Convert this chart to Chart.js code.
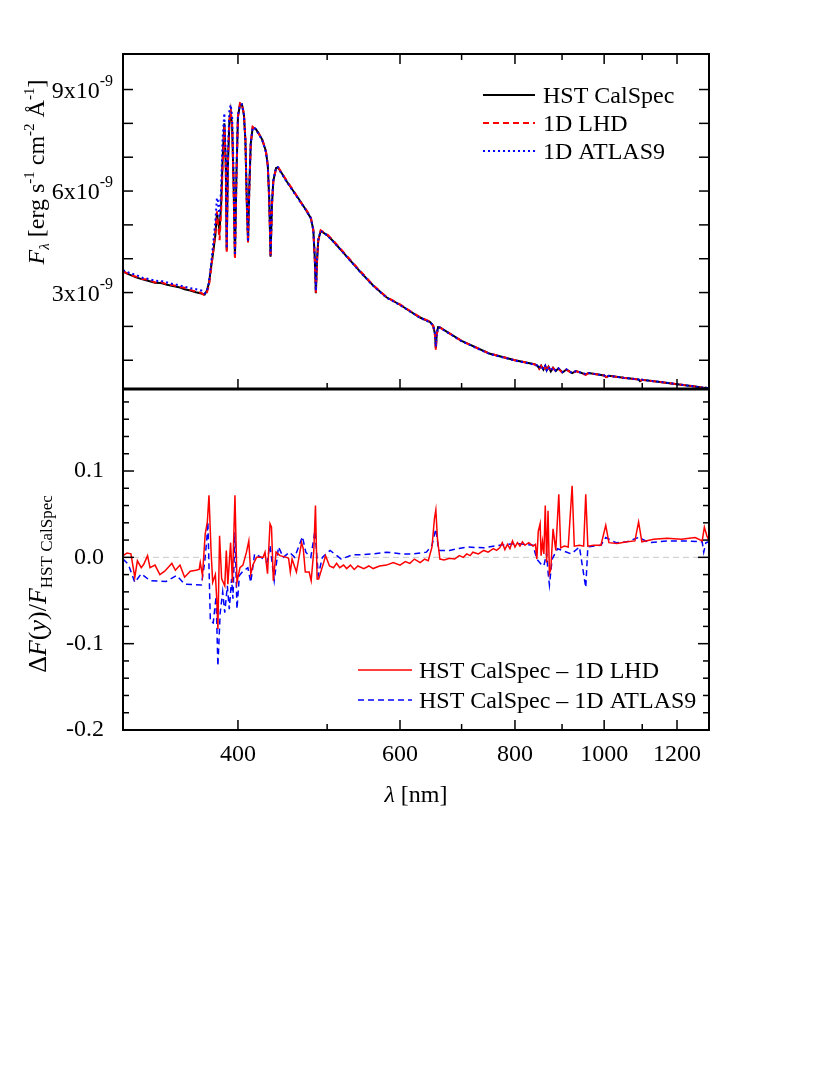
<!DOCTYPE html>
<html>
<head>
<meta charset="utf-8">
<script src="https://cdn.jsdelivr.net/npm/chart.js@4.4.0/dist/chart.umd.min.js"></script>
<style>
  html, body { margin: 0; padding: 0; background: #fff; }
  #wrap { position: relative; width: 830px; height: 1075px; }
</style>
</head>
<body>
<div id="wrap"><canvas id="c" width="830" height="1075"></canvas></div>
<script>
const SERIF = '"Liberation Serif", "Times New Roman", serif';

// top panel: wavelength [nm] and flux [1e-9 erg s-1 cm-2 A-1]
const fluxLam = [300, 305, 310, 315, 320, 325, 330, 335, 340, 345, 350, 355, 360, 365, 368, 370, 372, 374, 376, 378,
  379.5, 380.5, 382, 383.5, 385, 386.6, 388, 388.9, 390, 391.5, 392.8, 394.2, 395.5, 397, 398.5, 400, 402, 404, 406, 407.5,
  409, 410.2, 411.5, 413, 415, 418, 421, 425, 429, 431, 432.5, 434, 435.5, 437, 440, 442, 446, 452, 460, 467,
  474, 480, 483, 484.8, 486.1, 487.4, 489, 492, 500, 508, 525, 543, 561, 580, 600, 630, 647, 652, 654.8, 656.3,
  657.8, 660, 663, 700, 750, 800, 840, 846, 850, 854, 859, 863, 866, 870, 875, 880, 886, 892, 901, 910,
  923, 932, 955, 962, 1000, 1005, 1012, 1050, 1090, 1094, 1099, 1150, 1200, 1250, 1280, 1283, 1288, 1300];
const fluxCalSpec = [3.62, 3.53, 3.45, 3.39, 3.34, 3.29, 3.28, 3.23, 3.19, 3.16, 3.10, 3.06, 3.01, 2.97, 2.94, 3.05, 3.28, 3.75, 4.20, 4.70,
  5.35, 5.10, 4.85, 5.60, 7.00, 8.00, 6.80, 4.25, 6.70, 8.05, 8.35, 7.90, 6.40, 4.05, 6.50, 8.20, 8.55, 8.56, 8.25, 7.50,
  5.60, 4.50, 6.10, 7.40, 7.88, 7.84, 7.72, 7.52, 7.18, 6.75, 5.80, 4.06, 5.60, 6.30, 6.68, 6.70, 6.54, 6.28, 5.98, 5.72,
  5.45, 5.20, 4.85, 4.00, 2.98, 3.90, 4.55, 4.82, 4.70, 4.51, 4.07, 3.62, 3.21, 2.86, 2.64, 2.27, 2.13, 2.02, 1.78, 1.36,
  1.78, 1.98, 1.97, 1.57, 1.20, 1.00, 0.88, 0.84, 0.76, 0.84, 0.72, 0.83, 0.70, 0.81, 0.67, 0.78, 0.68, 0.76, 0.64, 0.73,
  0.62, 0.68, 0.58, 0.62, 0.55, 0.50, 0.54, 0.48, 0.43, 0.38, 0.42, 0.36, 0.29, 0.23, 0.19, 0.16, 0.19, 0.16];
const fluxLHD = [3.64, 3.52, 3.47, 3.40, 3.38, 3.30, 3.31, 3.24, 3.22, 3.17, 3.14, 3.08, 3.03, 2.99, 2.91, 3.00, 3.20, 3.70, 4.25, 4.80,
  5.40, 5.05, 4.55, 5.40, 6.80, 7.90, 6.60, 4.20, 6.80, 8.10, 8.35, 8.00, 6.30, 3.98, 6.40, 8.20, 8.60, 8.58, 8.28, 7.55,
  5.55, 4.46, 6.00, 7.38, 7.90, 7.82, 7.70, 7.54, 7.16, 6.75, 5.75, 4.04, 5.55, 6.28, 6.68, 6.72, 6.55, 6.30, 6.00, 5.70,
  5.47, 5.22, 4.85, 3.95, 2.94, 3.85, 4.52, 4.84, 4.72, 4.53, 4.09, 3.64, 3.22, 2.87, 2.65, 2.28, 2.14, 2.01, 1.74, 1.30,
  1.74, 1.97, 1.97, 1.57, 1.20, 1.00, 0.88, 0.82, 0.74, 0.83, 0.70, 0.82, 0.68, 0.80, 0.66, 0.77, 0.67, 0.75, 0.63, 0.72,
  0.61, 0.68, 0.57, 0.62, 0.55, 0.50, 0.54, 0.48, 0.43, 0.38, 0.42, 0.36, 0.29, 0.23, 0.19, 0.16, 0.19, 0.16];
const fluxATLAS9 = [3.66, 3.58, 3.52, 3.44, 3.40, 3.35, 3.34, 3.30, 3.25, 3.22, 3.17, 3.13, 3.10, 3.06, 2.98, 3.02, 3.30, 3.85, 4.45, 5.10,
  5.80, 5.70, 5.20, 6.10, 7.60, 8.30, 6.90, 4.30, 7.00, 8.40, 8.55, 8.20, 6.70, 4.10, 6.60, 8.25, 8.55, 8.56, 8.25, 7.50,
  5.65, 4.50, 6.15, 7.42, 7.88, 7.84, 7.70, 7.50, 7.15, 6.75, 5.85, 4.10, 5.65, 6.32, 6.70, 6.70, 6.52, 6.27, 5.96, 5.70,
  5.44, 5.20, 4.86, 4.05, 3.05, 3.95, 4.56, 4.82, 4.69, 4.50, 4.06, 3.61, 3.20, 2.85, 2.63, 2.26, 2.12, 2.02, 1.80, 1.40,
  1.80, 1.98, 1.96, 1.56, 1.19, 0.99, 0.87, 0.84, 0.77, 0.84, 0.73, 0.83, 0.71, 0.81, 0.69, 0.78, 0.69, 0.76, 0.65, 0.73,
  0.62, 0.68, 0.59, 0.62, 0.55, 0.51, 0.54, 0.48, 0.43, 0.39, 0.42, 0.36, 0.29, 0.23, 0.19, 0.17, 0.19, 0.16];

// bottom panel: relative differences (rows of 10 in both arrays)
const resLamLHD = [
  300, 303, 306, 309, 311, 314, 316, 319, 321, 325,
  329, 333, 337, 339, 342, 346, 350, 355, 360, 363,
  364, 366, 368.5, 370.5, 372, 374, 375.5, 378, 379.3, 380.4,
  382, 384, 387, 388.5, 390, 392.7, 394.5, 397, 399, 402,
  405, 408.6, 411, 413, 415.6, 419, 426, 428, 430.7, 433.4,
  435, 437, 440, 444.3, 451.8, 454, 456, 458, 463, 469,
  471, 473.4, 478, 480.4, 483.6, 485.6, 487.6, 489.5, 496, 498,
  503, 508, 512, 516, 521, 525, 530, 535, 540, 548,
  555, 561, 570, 580, 590, 600, 608, 615, 622, 631,
  638, 644, 650, 654, 656.3, 659, 663, 670, 679, 688,
  696, 703, 709, 715, 720, 730, 740, 748, 758, 764,
  770, 775, 780, 785, 790, 795, 800, 805, 810, 815,
  820, 828, 837, 842, 845, 848, 852, 854, 857, 860,
  863, 866, 869, 872, 875, 880, 886, 892.7, 897, 905,
  914, 923, 928, 940, 950, 955, 960, 974, 992, 1004,
  1012, 1033, 1059, 1080, 1090, 1099, 1132, 1171, 1213, 1256,
  1278, 1285, 1293, 1300];
const resLHD = [
  0.002, 0.005, 0.004, -0.023, -0.004, -0.012, -0.008, 0.002, -0.012, -0.009,
  -0.020, -0.016, -0.010, -0.007, -0.015, -0.009, -0.023, -0.016, -0.015, -0.014,
  -0.006, -0.021, 0.027, 0.041, 0.072, 0.006, -0.029, -0.020, -0.048, -0.083,
  0.025, -0.025, -0.033, 0.008, -0.031, 0.017, -0.029, 0.072, -0.029, -0.012,
  -0.009, 0.006, 0.019, -0.019, -0.008, 0.000, 0.000, 0.006, -0.019, 0.039,
  0.035, -0.027, 0.006, 0.002, 0.000, -0.001, -0.017, -0.002, -0.017, 0.017,
  0.010, -0.017, -0.017, -0.027, 0.008, 0.060, -0.025, -0.025, -0.005, 0.002,
  -0.010, -0.012, -0.007, -0.012, -0.009, -0.013, -0.009, -0.014, -0.010, -0.013,
  -0.010, -0.013, -0.010, -0.009, -0.006, -0.009, -0.005, -0.007, -0.002, -0.006,
  -0.002, -0.004, 0.012, 0.045, 0.055, 0.021, -0.002, -0.003, -0.001, -0.002,
  0.002, 0.000, 0.004, 0.002, 0.006, 0.004, 0.008, 0.006, 0.010, 0.008,
  0.011, 0.017, 0.009, 0.015, 0.010, 0.019, 0.012, 0.017, 0.013, 0.018,
  0.014, 0.017, 0.013, 0.015, -0.002, 0.030, 0.039, 0.002, 0.018, 0.004,
  0.060, -0.006, 0.054, -0.019, -0.014, 0.033, 0.008, 0.073, 0.011, 0.013,
  0.012, 0.083, 0.013, 0.014, 0.013, 0.073, 0.013, 0.014, 0.014, 0.037,
  0.017, 0.016, 0.018, 0.019, 0.041, 0.018, 0.021, 0.022, 0.021, 0.023,
  0.019, 0.035, 0.025, 0.019];
const resLamATLAS9 = [300, 304, 309, 314, 321, 334, 343, 350, 365, 368, 370, 371, 373.3, 376, 378.7, 380.4, 382.6, 385, 387, 389.5,
  391.4, 393.7, 395, 397, 399, 401.4, 405, 410, 413, 417, 424, 430, 433.4, 438, 442.7, 448, 455, 461, 470, 474,
  480, 485, 489, 494, 503.7, 518, 533, 543, 561, 580, 604, 620, 641, 650, 656.3, 661, 679, 709, 740, 770,
  803, 837, 845, 854, 860, 866, 869, 872, 878, 890, 921, 940, 955, 960, 992, 1004, 1030, 1059, 1090, 1120,
  1171, 1220, 1278, 1283, 1290, 1300];
const resATLAS9 = [-0.002, -0.008, -0.029, -0.019, -0.027, -0.028, -0.021, -0.031, -0.032, -0.006, 0.021, 0.041, -0.074, -0.076, -0.045, -0.126, -0.064, -0.040, -0.064, -0.033,
  -0.060, -0.025, -0.048, 0.029, -0.060, -0.021, -0.016, -0.012, -0.029, 0.004, 0.000, -0.006, 0.014, -0.027, 0.012, 0.000, 0.006, 0.000, 0.024, 0.006,
  0.000, 0.031, -0.021, 0.000, 0.008, -0.002, 0.003, 0.003, 0.004, 0.006, 0.004, 0.004, 0.006, 0.014, 0.033, 0.008, 0.008, 0.012, 0.011, 0.014,
  0.016, 0.014, -0.002, -0.008, -0.010, 0.005, -0.017, -0.032, -0.002, 0.010, 0.004, 0.012, -0.035, 0.012, 0.014, 0.023, 0.017, 0.018, 0.023, 0.017,
  0.019, 0.019, 0.018, 0.006, 0.017, 0.018];

// axis ticks
const xTicks = [400, 500, 600, 700, 800, 900, 1000, 1100, 1200];
const xLabels = [400, 600, 800, 1000, 1200];
const fluxTicks = [1, 2, 3, 4, 5, 6, 7, 8, 9];
const fluxLabels = [3, 6, 9];
const resTicks = [-0.18, -0.16, -0.14, -0.12, -0.1, -0.08, -0.06, -0.04, -0.02, 0, 0.02, 0.04, 0.06, 0.08, 0.1, 0.12, 0.14, 0.16, 0.18];
const resLabels = [-0.2, -0.1, 0.0, 0.1];

const F24 = `24px ${SERIF}`, I24 = `italic 24px ${SERIF}`, F15 = `15px ${SERIF}`, I15 = `italic 15px ${SERIF}`, F16 = `16px ${SERIF}`;
const F26 = `26px ${SERIF}`, I26 = `italic 26px ${SERIF}`, F17 = `17px ${SERIF}`;

const pts = (xs, ys) => xs.map((x, i) => ({ x, y: ys[i] }));

function runsWidth(ctx, runs) {
  let w = 0;
  runs.forEach(r => { ctx.font = r.f; w += ctx.measureText(r.t).width; });
  return w;
}
function drawRuns(ctx, runs, x, y) {
  runs.forEach(r => { ctx.font = r.f; ctx.fillText(r.t, x, y + (r.dy || 0)); x += ctx.measureText(r.t).width; });
}
function seg(ctx, x1, y1, x2, y2) { ctx.beginPath(); ctx.moveTo(x1, y1); ctx.lineTo(x2, y2); ctx.stroke(); }

function legend(ctx, items, x0, x1, tx) {
  items.forEach(it => {
    ctx.save();
    ctx.strokeStyle = it.color; ctx.lineWidth = it.width; ctx.setLineDash(it.dash);
    seg(ctx, x0, it.y, x1, it.y);
    ctx.restore();
    ctx.fillStyle = '#000'; ctx.font = F24; ctx.textAlign = 'left'; ctx.textBaseline = 'alphabetic';
    ctx.fillText(it.text, tx, it.y + 8);
  });
}

const framePlugin = {
  id: 'frame',
  beforeDatasetsDraw(chart) {
    const { ctx } = chart, yr = chart.scales.yRes, a = chart.chartArea;
    const y0 = yr.getPixelForValue(0);
    ctx.save();
    ctx.strokeStyle = '#c8c8c8'; ctx.lineWidth = 1; ctx.setLineDash([6, 4]);
    seg(ctx, a.left, y0, a.right, y0);
    ctx.restore();
  },
  afterDatasetsDraw(chart) {
    const { ctx } = chart, x = chart.scales.x, yf = chart.scales.yFlux, yr = chart.scales.yRes;
    const L = chart.chartArea.left, R = chart.chartArea.right;
    const top = yf.top, mid = yf.bottom, bot = yr.bottom;
    ctx.save();
    ctx.strokeStyle = '#000';
    ctx.lineWidth = 2;
    ctx.strokeRect(L, top, R - L, bot - top);
    ctx.lineWidth = 3;
    seg(ctx, L, mid, R, mid);
    ctx.lineWidth = 1.5;
    xTicks.forEach(v => {
      const px = x.getPixelForValue(v), len = xLabels.includes(v) ? 10 : 6;
      seg(ctx, px, top, px, top + len);
      seg(ctx, px, mid, px, mid - len);
      seg(ctx, px, bot, px, bot - len);
    });
    fluxTicks.forEach(v => {
      const py = yf.getPixelForValue(v);
      seg(ctx, L, py, L + 10, py);
      seg(ctx, R, py, R - 10, py);
    });
    resTicks.forEach(v => {
      const py = yr.getPixelForValue(v), len = resLabels.some(l => Math.abs(l - v) < 1e-9) ? 11 : 6;
      seg(ctx, L, py, L + len, py);
      seg(ctx, R, py, R - len, py);
    });

    // flux tick labels with superscript exponent
    ctx.fillStyle = '#000'; ctx.textBaseline = 'alphabetic'; ctx.textAlign = 'left';
    fluxLabels.forEach(v => {
      const py = yf.getPixelForValue(v);
      const runs = [{ t: v + 'x10', f: F24 }, { t: '-9', f: F16, dy: -12 }];
      const w = runsWidth(ctx, runs);
      drawRuns(ctx, runs, L - 10 - w, py + 8);
    });

    // legends
    legend(ctx, [
      { text: 'HST CalSpec', color: '#000', width: 2, dash: [], y: 95 },
      { text: '1D LHD', color: '#ff0000', width: 2, dash: [6, 4], y: 123 },
      { text: '1D ATLAS9', color: '#0000ff', width: 2, dash: [2, 3], y: 151 }
    ], 483, 535, 543);
    legend(ctx, [
      { text: 'HST CalSpec \u2013 1D LHD', color: '#ff0000', width: 1.5, dash: [], y: 670 },
      { text: 'HST CalSpec \u2013 1D ATLAS9', color: '#0000ff', width: 1.5, dash: [6, 4], y: 700 }
    ], 358, 412, 419);

    // axis titles
    const topTitle = [{ t: 'F', f: I24 }, { t: '\u03bb', f: I15, dy: 5 }, { t: ' [erg s', f: F24 }, { t: '-1', f: F15, dy: -10 },
      { t: ' cm', f: F24 }, { t: '-2', f: F15, dy: -10 }, { t: ' \u00c5', f: F24 }, { t: '-1', f: F15, dy: -10 }, { t: ']', f: F24 }];
    const botTitle = [{ t: '\u0394', f: F26 }, { t: 'F', f: I26 }, { t: '(', f: F26 }, { t: 'y', f: I26 }, { t: ')/', f: F26 },
      { t: 'F', f: I26 }, { t: 'HST CalSpec', f: F17, dy: 6 }];
    [[topTitle, 172, 44], [botTitle, 584, 46]].forEach(([runs, cy, bx]) => {
      ctx.save();
      ctx.translate(bx, cy);
      ctx.rotate(-Math.PI / 2);
      drawRuns(ctx, runs, -runsWidth(ctx, runs) / 2, 0);
      ctx.restore();
    });
    const xTitle = [{ t: '\u03bb', f: I24 }, { t: ' [nm]', f: F24 }];
    drawRuns(ctx, xTitle, (L + R) / 2 - runsWidth(ctx, xTitle) / 2, 802);
    ctx.restore();
  }
};

Chart.defaults.font.family = SERIF;
Chart.defaults.color = '#000';

new Chart(document.getElementById('c').getContext('2d'), {
  type: 'line',
  data: {
    datasets: [
      { label: 'HST CalSpec', data: pts(fluxLam, fluxCalSpec), yAxisID: 'yFlux', borderColor: '#000', borderWidth: 2, order: 3 },
      { label: '1D LHD', data: pts(fluxLam, fluxLHD), yAxisID: 'yFlux', borderColor: '#ff0000', borderWidth: 2, borderDash: [6, 4], order: 2 },
      { label: '1D ATLAS9', data: pts(fluxLam, fluxATLAS9), yAxisID: 'yFlux', borderColor: '#0000ff', borderWidth: 2, borderDash: [2, 3], order: 1 },
      { label: 'HST CalSpec \u2013 1D LHD', data: pts(resLamLHD, resLHD), yAxisID: 'yRes', borderColor: '#ff0000', borderWidth: 1.5, order: 1 },
      { label: 'HST CalSpec \u2013 1D ATLAS9', data: pts(resLamATLAS9, resATLAS9), yAxisID: 'yRes', borderColor: '#0000ff', borderWidth: 1.5, borderDash: [6, 4], order: 2 }
    ]
  },
  options: {
    responsive: false,
    animation: false,
    devicePixelRatio: 1,
    layout: { padding: { left: 0, right: 121, top: 54, bottom: 0 } },
    elements: { point: { radius: 0 }, line: { tension: 0, fill: false } },
    plugins: { legend: { display: false }, tooltip: { enabled: false } },
    scales: {
      x: {
        type: 'logarithmic', min: 300, max: 1300, position: 'bottom',
        afterBuildTicks: s => { s.ticks = xTicks.map(v => ({ value: v })); },
        afterFit: s => { s.height = 345; },
        grid: { display: false }, border: { display: false },
        ticks: { autoSkip: false, maxRotation: 0, padding: 2, font: { size: 24 }, callback: v => xLabels.includes(v) ? String(v) : '' }
      },
      yRes: {
        type: 'linear', position: 'left', stack: 'panels', stackWeight: 341, min: -0.2, max: 0.195,
        afterBuildTicks: s => { s.ticks = resLabels.map(v => ({ value: v })); },
        afterFit: s => { s.width = 123; },
        grid: { display: false }, border: { display: false },
        ticks: { padding: 11, font: { size: 24 }, callback: v => v.toFixed(1) }
      },
      yFlux: {
        type: 'linear', position: 'left', stack: 'panels', stackWeight: 335, min: 0.15, max: 10.05,
        afterFit: s => { s.width = 123; },
        grid: { display: false }, border: { display: false },
        ticks: { display: false }
      }
    }
  },
  plugins: [framePlugin]
});
</script>
</body>
</html>
